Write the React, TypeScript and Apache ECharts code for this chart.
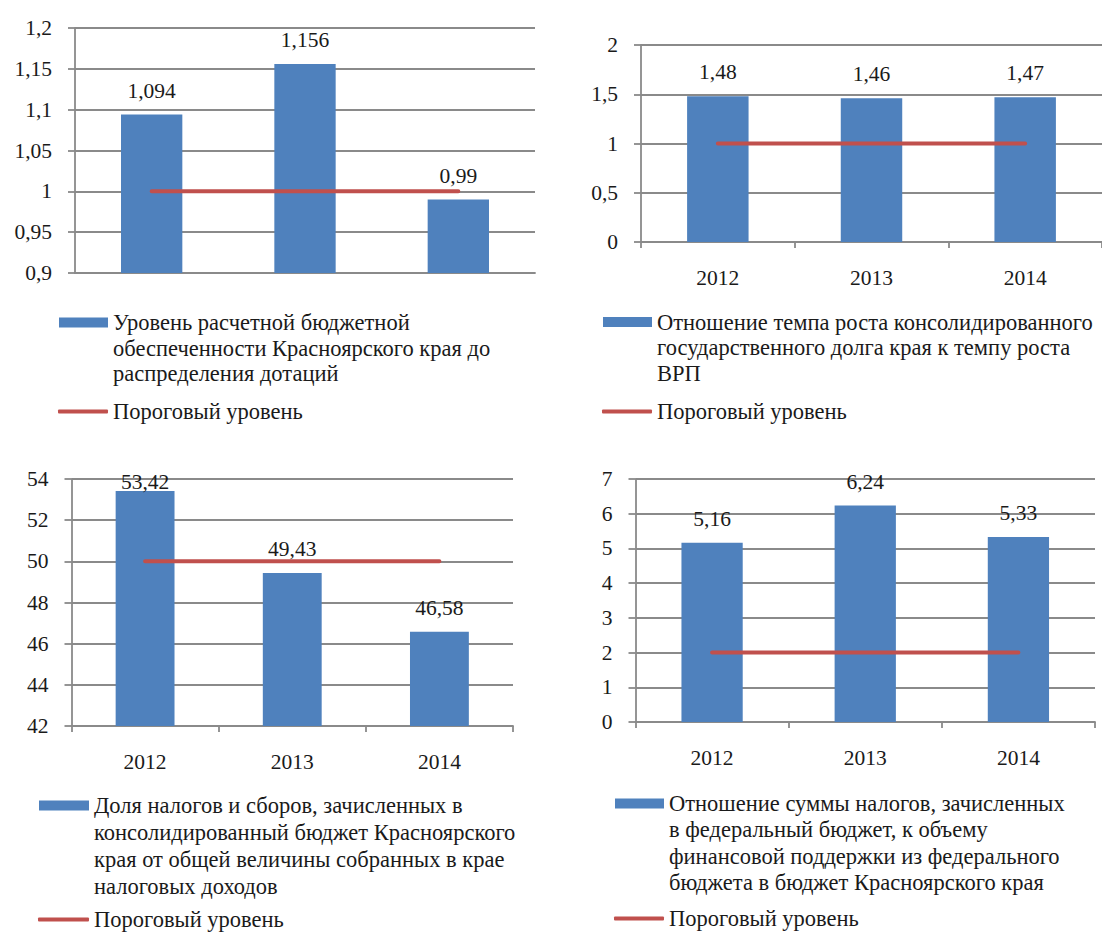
import React, { useEffect, useRef } from 'react';
import * as echarts from 'echarts';

const categories = ['2012', '2013', '2014'];

const p1Values = [1.094, 1.156, 0.99];
const p1Threshold = [1, 1, 1];
const p2Values = [1.48, 1.46, 1.47];
const p2Threshold = [1, 1, 1];
const p3Values = [53.42, 49.43, 46.58];
const p3Threshold = [50, 50, 50];
const p4Values = [5.16, 6.24, 5.33];
const p4Threshold = [2, 2, 2];

const p1Name = 'Уровень расчетной бюджетной\nобеспеченности Красноярского края до\nраспределения дотаций';
const p2Name = 'Отношение темпа роста консолидированного\nгосударственного долга края к темпу роста\nВРП';
const p3Name = 'Доля налогов и сборов, зачисленных в\nконсолидированный бюджет Красноярского\nкрая от общей величины собранных в крае\nналоговых доходов';
const p4Name = 'Отношение суммы налогов, зачисленных\nв федеральный бюджет, к объему\nфинансовой поддержки из федерального\nбюджета в бюджет Красноярского края';
const thresholdName = 'Пороговый уровень';

const yRanges = [
  { min: 0.9, max: 1.2, interval: 0.05 },
  { min: 0, max: 2, interval: 0.5 },
  { min: 42, max: 54, interval: 2 },
  { min: 0, max: 7, interval: 1 },
];

const FONT = 'Liberation Serif';
const AXIS_FS = 21.5;
const LEGEND_FS = 22.5;
const BLUE = '#4F81BD';
const RED = '#C0504D';
const GRID = '#8a8a8a';
const TEXT = '#1a1a1a';

const panels = [
  {
    name: p1Name, values: p1Values, threshold: p1Threshold, showX: false,
    grid: { left: 75, top: 28, width: 460, height: 245 },
    barLegend: { left: 59, y0: 322.5, itemWidth: 49, lh: 25.5 },
    lineLegend: { left: 58, top: 400, itemWidth: 50 },
  },
  {
    name: p2Name, values: p2Values, threshold: p2Threshold, showX: true,
    grid: { left: 641, top: 45, width: 463, height: 197 },
    barLegend: { left: 603, y0: 322, itemWidth: 49, lh: 25.5 },
    lineLegend: { left: 602, top: 400, itemWidth: 50 },
  },
  {
    name: p3Name, values: p3Values, threshold: p3Threshold, showX: true,
    grid: { left: 71.5, top: 479, width: 441.5, height: 247 },
    barLegend: { left: 39, y0: 805.5, itemWidth: 50, lh: 27 },
    lineLegend: { left: 38, top: 908, itemWidth: 51 },
  },
  {
    name: p4Name, values: p4Values, threshold: p4Threshold, showX: true,
    grid: { left: 635.5, top: 479, width: 459.5, height: 243 },
    barLegend: { left: 615, y0: 803.5, itemWidth: 49, lh: 26.3 },
    lineLegend: { left: 614, top: 907, itemWidth: 50 },
  },
];

const fmt = (v: number) => String(Number(Number(v).toFixed(4))).replace('.', ',');

export default function App() {
  const ref = useRef<HTMLDivElement>(null);
  useEffect(() => {
    if (!ref.current) return;
    const chart = echarts.init(ref.current, null, { renderer: 'svg' });
    const grids: any[] = [];
    const xAxes: any[] = [];
    const yAxes: any[] = [];
    const series: any[] = [];
    const legends: any[] = [];
    panels.forEach((p, i) => {
      const yr = yRanges[i];
      grids.push({ ...p.grid, containLabel: false });
      xAxes.push({
        type: 'category', gridIndex: i, data: categories,
        axisLine: { show: true, lineStyle: { color: GRID, width: 1.8 } },
        axisTick: { show: p.showX, length: 6, alignWithLabel: false, lineStyle: { color: GRID, width: 1.8 } },
        axisLabel: { show: p.showX, margin: 25, fontSize: AXIS_FS, fontFamily: FONT, color: TEXT },
        splitLine: { show: false },
      });
      yAxes.push({
        type: 'value', gridIndex: i, min: yr.min, max: yr.max, interval: yr.interval,
        axisLine: { show: true, lineStyle: { color: GRID, width: 1.8 } },
        axisTick: { show: true, length: 7, lineStyle: { color: GRID, width: 1.8 } },
        axisLabel: { margin: 23, fontSize: AXIS_FS, fontFamily: FONT, color: TEXT, formatter: (v: number) => fmt(v) },
        splitLine: { show: true, lineStyle: { color: GRID, width: 1.8 } },
      });
      const h = p.grid.height;
      const data = p.values.map((v) => {
        const topPx = ((yr.max - v) / (yr.max - yr.min)) * h;
        const dist = Math.min(13, topPx + 8 - 22);
        return { value: v, label: { distance: dist } };
      });
      series.push({
        type: 'bar', name: p.name, xAxisIndex: i, yAxisIndex: i, data,
        barWidth: '40%',
        itemStyle: { color: BLUE },
        label: {
          show: true, position: 'top', fontSize: AXIS_FS, fontFamily: FONT, color: TEXT,
          formatter: (prm: any) => fmt(prm.value),
        },
        z: 2,
      });
      series.push({
        type: 'line', name: thresholdName, xAxisIndex: i, yAxisIndex: i, data: p.threshold,
        symbol: 'none', showSymbol: false,
        itemStyle: { color: RED },
        lineStyle: { color: RED, width: 4, cap: 'round' },
        z: 3,
      });
      const nLines = p.name.split('\n').length;
      const lh = p.barLegend.lh;
      legends.push({
        data: [p.name], left: p.barLegend.left,
        top: p.barLegend.y0 - ((2 * nLines - 1) * lh) / 2,
        orient: 'vertical', padding: 0,
        icon: 'rect', itemWidth: p.barLegend.itemWidth, itemHeight: 10,
        selectedMode: false,
        formatter: (name: string) => '\n'.repeat(nLines - 1) + name,
        textStyle: { fontSize: LEGEND_FS, fontFamily: FONT, color: TEXT, lineHeight: lh },
      });
      legends.push({
        data: [thresholdName], left: p.lineLegend.left, top: p.lineLegend.top,
        orient: 'vertical', padding: 0,
        icon: 'roundRect', itemWidth: p.lineLegend.itemWidth, itemHeight: 4,
        selectedMode: false,
        itemStyle: { color: RED },
        textStyle: { fontSize: LEGEND_FS, fontFamily: FONT, color: TEXT },
      });
    });
    chart.setOption({
      animation: false,
      backgroundColor: '#ffffff',
      textStyle: { fontFamily: FONT },
      grid: grids,
      xAxis: xAxes,
      yAxis: yAxes,
      series,
      legend: legends,
    });
    return () => chart.dispose();
  }, []);
  return <div ref={ref} style={{ position: 'fixed', left: 0, top: 0, width: 1102, height: 934 }} />;
}
